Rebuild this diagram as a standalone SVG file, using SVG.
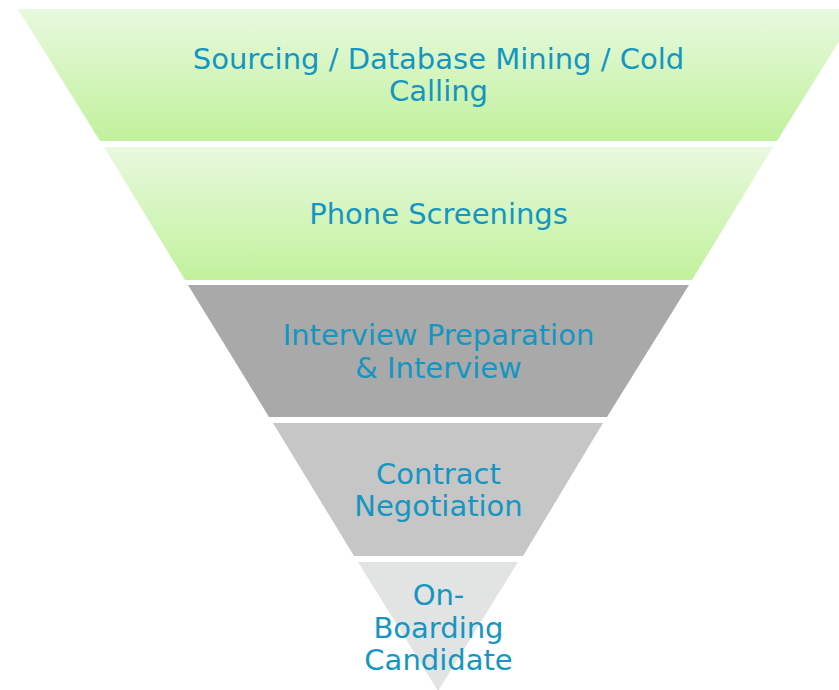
<svg xmlns="http://www.w3.org/2000/svg" width="839" height="690" viewBox="0 0 839 690">
  <style>
    .lbl { font-family: "DejaVu Sans", "Liberation Sans", sans-serif; font-size: 29px; fill: #1596c2; text-anchor: middle; }
  </style>
  <defs>
    <linearGradient id="greenFill" x1="0" y1="0" x2="0" y2="1">
      <stop offset="0" stop-color="#e8f9df"/>
      <stop offset="1" stop-color="#c1f19c"/>
    </linearGradient>
  </defs>
  <rect width="839" height="690" fill="#ffffff"/>

  <!-- funnel stages, top to bottom -->
  <g id="stage-sourcing">
    <polygon points="18,9 859,9 777,141 100,141" fill="url(#greenFill)"/>
    <text class="lbl" x="438.5" y="69">Sourcing / Database Mining / Cold</text>
    <text class="lbl" x="438.5" y="101">Calling</text>
  </g>
  <g id="stage-phone">
    <polygon points="104,147 773,147 692,280 185,280" fill="url(#greenFill)"/>
    <text class="lbl" x="438.5" y="224">Phone Screenings</text>
  </g>
  <g id="stage-interview">
    <polygon points="188,285 689,285 607,417 269,417" fill="#a8a9a8"/>
    <text class="lbl" x="438.5" y="345">Interview Preparation</text>
    <text class="lbl" x="438.5" y="378">&amp; Interview</text>
  </g>
  <g id="stage-contract">
    <polygon points="273,423 603,423 523,556 354,556" fill="#c6c6c6"/>
    <text class="lbl" x="438.5" y="484">Contract</text>
    <text class="lbl" x="438.5" y="516">Negotiation</text>
  </g>
  <g id="stage-onboarding">
    <polygon points="358,562 518,562 438,691" fill="#e2e3e3"/>
    <text class="lbl" x="438.5" y="605">On-</text>
    <text class="lbl" x="438.5" y="638">Boarding</text>
    <text class="lbl" x="438.5" y="670">Candidate</text>
  </g>

  <g id="connectors"></g>
</svg>
